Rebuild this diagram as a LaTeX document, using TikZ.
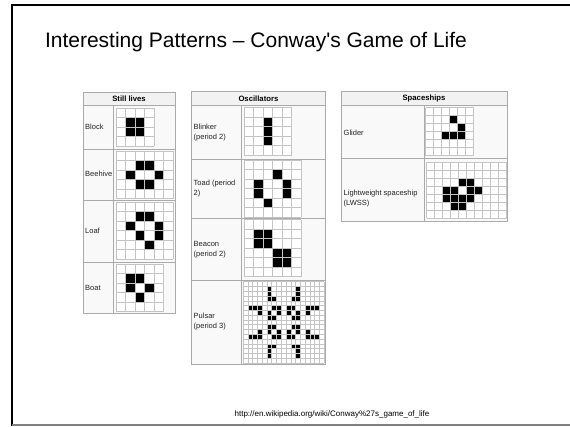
\documentclass[tikz,border=0pt]{standalone}
\usepackage{fontspec}
\setmainfont{Liberation Sans}[Ligatures=TeXOff]
\definecolor{tblline}{HTML}{AAAAAA}
\definecolor{tblhead}{HTML}{F2F2F2}
\definecolor{tblcell}{HTML}{F9F9F9}
\definecolor{cellgray}{HTML}{C4C4C4}
\definecolor{lbltext}{HTML}{222222}

\begin{document}
\begin{tikzpicture}[x=1pt,y=-1pt,
  tbl/.style={draw=tblline,line width=0.8pt},
  head/.style={font=\bfseries\fontsize{7.7}{9}\selectfont,inner sep=0pt},
  lbl/.style={anchor=west,align=left,inner sep=0pt,text=lbltext,font=\fontsize{7.5}{10}\selectfont},
  cellln/.style={draw=cellgray,line width=0.8pt},
  live/.style={fill=black}]

  \useasboundingbox (0,0) rectangle (570,426);
  \fill[white] (0,0) rectangle (570,426);
  \draw[line width=2pt] (11.5,426) -- (11.5,4.5) -- (570,4.5);
  \draw[gray,line width=1.5pt] (11.5,425.2) -- (570,425.2);

  \node (title) [anchor=base west,font=\fontsize{21}{25}\selectfont] at (41.5,47.5)
    {Interesting Patterns – Conway's Game of Life};

  % still lives
  \fill[tblcell] (83,92) rectangle (175,313);
  \fill[tblhead] (83,92) rectangle (175,105.5);
  \draw[tbl] (83,92) rectangle (175,313);
  \foreach \y in {105.5,149,200,262}
    \draw[tbl] (83,\y) -- (175,\y);
  \draw[tbl] (113,105.5) -- (113,313);
  \node (stillhd) [head] at (129,98.8) {Still lives};
  \node (block) [lbl] at (85,127.3) {Block};
  \node (beehive) [lbl] at (85,174.3) {Beehive};
  \node (loaf) [lbl] at (85,231) {Loaf};
  \node (boat) [lbl] at (85,287.7) {Boat};

  \begin{scope}[shift={(116,108)},x=9.6pt,y=-9.6pt]
    \fill[white] (0,0) rectangle (4,4);
    \foreach \c/\r in {1/1,2/1,1/2,2/2}
      \fill[live] (\c,\r) rectangle +(1,1);
    \foreach \i in {0,...,4}
    {
      \draw[cellln] (\i,0) -- (\i,4);
      \draw[cellln] (0,\i) -- (4,\i);
    }
  \end{scope}

  \begin{scope}[shift={(116,151)},x=9.5pt,y=-9.5pt]
    \fill[white] (0,0) rectangle (6,5);
    \foreach \c/\r in {2/1,3/1,1/2,4/2,2/3,3/3}
      \fill[live] (\c,\r) rectangle +(1,1);
    \foreach \i in {0,...,6}
      \draw[cellln] (\i,0) -- (\i,5);
    \foreach \j in {0,...,5}
      \draw[cellln] (0,\j) -- (6,\j);
  \end{scope}

  \begin{scope}[shift={(116,202)},x=9.5pt,y=-9.5pt]
    \fill[white] (0,0) rectangle (6,6);
    \foreach \c/\r in {2/1,3/1,1/2,4/2,2/3,4/3,3/4}
      \fill[live] (\c,\r) rectangle +(1,1);
    \foreach \i in {0,...,6}
    {
      \draw[cellln] (\i,0) -- (\i,6);
      \draw[cellln] (0,\i) -- (6,\i);
    }
  \end{scope}

  \begin{scope}[shift={(116,264)},x=9.5pt,y=-9.5pt]
    \fill[white] (0,0) rectangle (5,5);
    \foreach \c/\r in {1/1,2/1,1/2,3/2,2/3}
      \fill[live] (\c,\r) rectangle +(1,1);
    \foreach \i in {0,...,5}
    {
      \draw[cellln] (\i,0) -- (\i,5);
      \draw[cellln] (0,\i) -- (5,\i);
    }
  \end{scope}

  % oscillators
  \fill[tblcell] (191,91.7) rectangle (325.7,364);
  \fill[tblhead] (191,91.7) rectangle (325.7,105.7);
  \draw[tbl] (191,91.7) rectangle (325.7,364);
  \foreach \y in {105.7,159,218.5,280.7}
    \draw[tbl] (191,\y) -- (325.7,\y);
  \draw[tbl] (241.7,105.7) -- (241.7,364);
  \node (oschd) [head] at (258.4,98.7) {Oscillators};
  \node (blinker) [lbl] at (193.5,133) {Blinker\\(period 2)};
  \node (toad) [lbl] at (193.5,188.5) {Toad (period\\2)};
  \node (beacon) [lbl] at (193.5,250) {Beacon\\(period 2)};
  \node (pulsar) [lbl] at (193.5,321.7) {Pulsar\\(period 3)};

  \begin{scope}[shift={(244,107.7)},x=9.5pt,y=-9.5pt]
    \fill[white] (0,0) rectangle (5,5);
    \foreach \c/\r in {2/1,2/2,2/3}
      \fill[live] (\c,\r) rectangle +(1,1);
    \foreach \i in {0,...,5}
    {
      \draw[cellln] (\i,0) -- (\i,5);
      \draw[cellln] (0,\i) -- (5,\i);
    }
  \end{scope}

  \begin{scope}[shift={(244,160)},x=9.5pt,y=-9.5pt]
    \fill[white] (0,0) rectangle (6,6);
    \foreach \c/\r in {3/1,1/2,4/2,1/3,4/3,2/4}
      \fill[live] (\c,\r) rectangle +(1,1);
    \foreach \i in {0,...,6}
    {
      \draw[cellln] (\i,0) -- (\i,6);
      \draw[cellln] (0,\i) -- (6,\i);
    }
  \end{scope}

  \begin{scope}[shift={(244,219.7)},x=9.5pt,y=-9.5pt]
    \fill[white] (0,0) rectangle (6,6);
    \foreach \c/\r in {1/1,2/1,1/2,2/2,3/3,4/3,3/4,4/4}
      \fill[live] (\c,\r) rectangle +(1,1);
    \foreach \i in {0,...,6}
    {
      \draw[cellln] (\i,0) -- (\i,6);
      \draw[cellln] (0,\i) -- (6,\i);
    }
  \end{scope}

  \begin{scope}[shift={(243,281.7)},x=4.78pt,y=-4.78pt]
    \fill[white] (0,0) rectangle (17,17);
    \foreach \c/\r in {5/1,5/2,5/3,6/3,1/5,2/5,3/5,6/5,7/5,3/6,5/6,7/6,5/7,6/7}
    {
      \fill[live] (\c,\r) rectangle +(1,1);
      \fill[live] ({16-\c},\r) rectangle +(1,1);
      \fill[live] (\c,{16-\r}) rectangle +(1,1);
      \fill[live] ({16-\c},{16-\r}) rectangle +(1,1);
    }
    \foreach \i in {0,...,17}
    {
      \draw[cellln,line width=0.5pt] (\i,0) -- (\i,17);
      \draw[cellln,line width=0.5pt] (0,\i) -- (17,\i);
    }
  \end{scope}

  % spaceships
  \fill[tblcell] (341,91.7) rectangle (507,221);
  \fill[tblhead] (341,91.7) rectangle (507,105.7);
  \draw[tbl] (341,91.7) rectangle (507,221);
  \foreach \y in {105.7,158.5}
    \draw[tbl] (341,\y) -- (507,\y);
  \draw[tbl] (424.3,105.7) -- (424.3,221);
  \node (shiphd) [head] at (424,98.7) {Spaceships};
  \node (glider) [lbl] at (343.5,132.7) {Glider};
  \node (lwss) [lbl] at (343.5,198.3) {Lightweight spaceship\\(LWSS)};

  \begin{scope}[shift={(425.5,107.7)},x=8pt,y=-8pt]
    \fill[white] (0,0) rectangle (6,6);
    \foreach \c/\r in {3/1,4/2,2/3,3/3,4/3}
      \fill[live] (\c,\r) rectangle +(1,1);
    \foreach \i in {0,...,6}
    {
      \draw[cellln] (\i,0) -- (\i,6);
      \draw[cellln] (0,\i) -- (6,\i);
    }
  \end{scope}

  \begin{scope}[shift={(426.5,162.3)},x=8pt,y=-8pt]
    \fill[white] (0,0) rectangle (10,7);
    \foreach \c/\r in {4/2,5/2,2/3,3/3,5/3,6/3,2/4,3/4,4/4,5/4,3/5,4/5}
      \fill[live] (\c,\r) rectangle +(1,1);
    \foreach \i in {0,...,10}
      \draw[cellln] (\i,0) -- (\i,7);
    \foreach \j in {0,...,7}
      \draw[cellln] (0,\j) -- (10,\j);
  \end{scope}

  \node (source) [anchor=base,font=\fontsize{8}{10}\selectfont] at (332,416.5)
    {http://en.wikipedia.org/wiki/Conway\%27s\_game\_of\_life};
\end{tikzpicture}
\end{document}
